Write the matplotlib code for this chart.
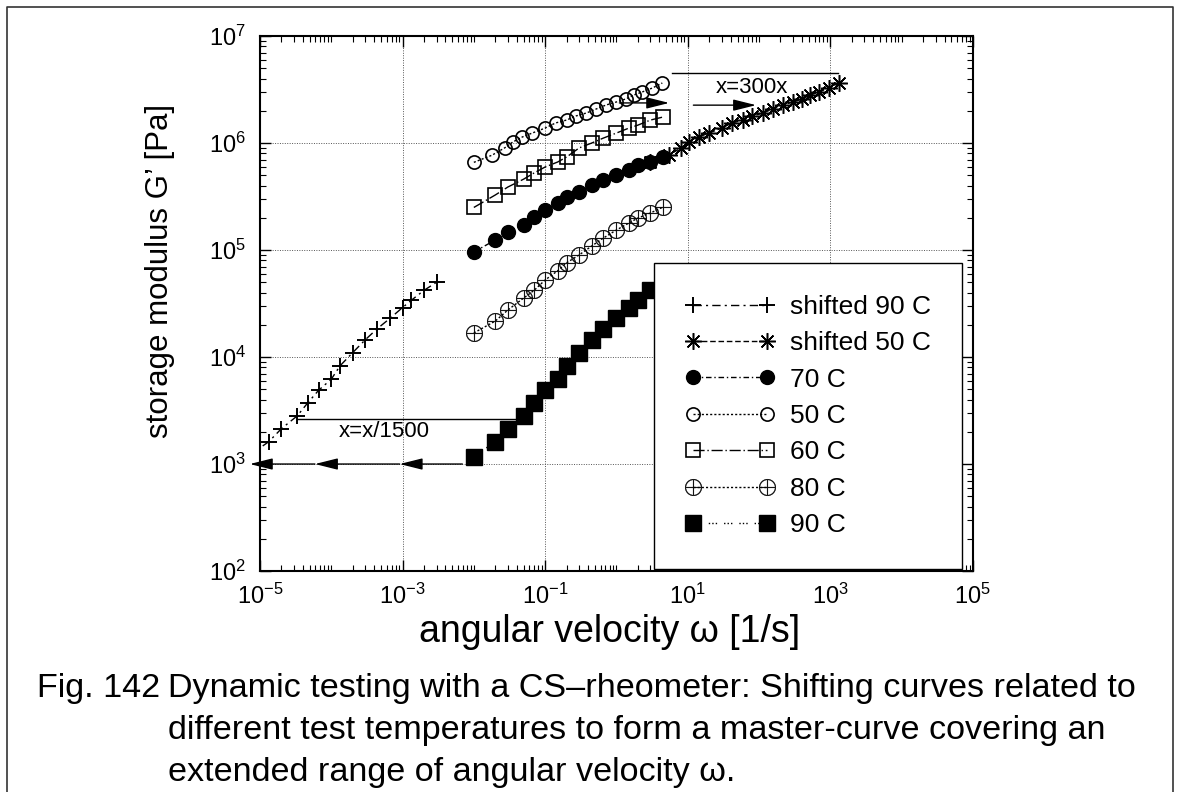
import matplotlib
matplotlib.use("Agg")
import matplotlib.pyplot as plt
from matplotlib.lines import Line2D
from matplotlib.ticker import FixedLocator, LogLocator, NullFormatter, LogFormatterSciNotation

plt.rcParams['font.family'] = ['Liberation Sans', 'DejaVu Sans']
plt.rcParams['mathtext.fontset'] = 'custom'
plt.rcParams['mathtext.rm'] = 'Liberation Sans'
plt.rcParams['mathtext.it'] = 'Liberation Sans:italic'
plt.rcParams['axes.unicode_minus'] = False

# --- data ---
# 50 C was measured on a finer frequency grid
freq_50 = [0.01, 0.018, 0.027, 0.035, 0.048, 0.066, 0.1, 0.14, 0.2, 0.27,
           0.38, 0.52, 0.72, 1.0, 1.35, 1.75, 2.3, 3.2, 4.4]
g_50 = [6.6e5, 7.7e5, 9.0e5, 1.02e6, 1.14e6, 1.24e6, 1.38e6, 1.54e6, 1.64e6, 1.79e6,
        1.91e6, 2.08e6, 2.27e6, 2.42e6, 2.58e6, 2.81e6, 3.0e6, 3.27e6, 3.64e6]

freq = [0.01, 0.02, 0.03, 0.05, 0.07, 0.1, 0.15, 0.2, 0.3, 0.45,
        0.65, 1.0, 1.5, 2.0, 3.0, 4.5]
g_60 = [2.5e5, 3.27e5, 3.88e5, 4.6e5, 5.25e5, 5.97e5, 6.65e5, 7.4e5, 9.0e5, 1.0e6,
        1.11e6, 1.24e6, 1.38e6, 1.47e6, 1.64e6, 1.75e6]
g_70 = [9.6e4, 1.24e5, 1.47e5, 1.71e5, 2.03e5, 2.36e5, 2.75e5, 3.13e5, 3.48e5, 4.05e5,
        4.5e5, 5.0e5, 5.6e5, 6.2e5, 6.6e5, 7.4e5]
g_80 = [1.68e4, 2.17e4, 2.75e4, 3.56e4, 4.2e4, 5.25e4, 6.4e4, 7.6e4, 9.0e4, 1.09e5,
        1.29e5, 1.54e5, 1.79e5, 1.99e5, 2.22e5, 2.52e5]
g_90 = [1.17e3, 1.62e3, 2.14e3, 2.82e3, 3.72e3, 4.9e3, 6.2e3, 8.3e3, 1.1e4, 1.45e4,
        1.82e4, 2.3e4, 2.9e4, 3.4e4, 4.2e4, 5.0e4]

shift_90 = 1 / 1500
shift_50 = 300

x_ticks = [1e-5, 1e-3, 1e-1, 1e1, 1e3, 1e5]
y_ticks = [1e2, 1e3, 1e4, 1e5, 1e6, 1e7]

fig = plt.figure(figsize=(11.8, 7.92), dpi=100)
ax = fig.add_axes([0.2203, 0.279, 0.6042, 0.6755])

k = 'black'
lw = 1.0
ax.plot([f * shift_90 for f in freq], g_90, color=k, lw=lw, dashes=(6, 3, 1.5, 3),
        marker='+', ms=11, mew=1.4, label='shifted 90 C')
ax.plot([f * shift_50 for f in freq_50], g_50, color=k, lw=lw, dashes=(4, 2),
        marker=(8, 2, 0), ms=12, mew=1.1, label='shifted 50 C')
ax.plot(freq, g_70, color=k, lw=lw, dashes=(4, 2, 1, 2),
        marker='o', ms=10, mfc=k, label='70 C')
ax.plot(freq_50, g_50, color=k, lw=lw, dashes=(1.5, 1.5),
        marker='o', ms=9.5, mfc='none', mew=1.2, label='50 C')
ax.plot(freq, g_60, color=k, lw=lw, dashes=(8, 2, 1, 2),
        marker='s', ms=9.5, mfc='none', mew=1.2, label='60 C')
ax.plot(freq, g_80, color=k, lw=lw, dashes=(1.5, 1.5),
        marker='$\\oplus$', ms=12, mew=0.3, label='80 C')
ax.plot(freq, g_90, color=k, lw=lw, dashes=(1, 1.5, 1, 1.5, 1, 5),
        marker='s', ms=11, mfc=k, label='90 C')

ax.set_xscale('log')
ax.set_yscale('log')
ax.set_xlim(1e-5, 1e5)
ax.set_ylim(1e2, 1e7)

ax.xaxis.set_major_locator(FixedLocator(x_ticks))
ax.yaxis.set_major_locator(FixedLocator(y_ticks))
ax.xaxis.set_major_formatter(LogFormatterSciNotation())
ax.yaxis.set_major_formatter(LogFormatterSciNotation())
ax.xaxis.set_minor_locator(LogLocator(base=10, subs=range(1, 10), numticks=30))
ax.yaxis.set_minor_locator(LogLocator(base=10, subs=range(1, 10), numticks=30))
ax.xaxis.set_minor_formatter(NullFormatter())
ax.yaxis.set_minor_formatter(NullFormatter())
ax.tick_params(which='both', direction='in', top=True, right=True, labelsize=17)
ax.tick_params(which='major', length=8, width=1)
ax.tick_params(axis='x', which='major', pad=9)
ax.tick_params(axis='y', which='major', pad=10)
ax.tick_params(which='minor', length=4, width=0.8)
ax.grid(True, which='major', linestyle=(0, (1, 1.5)), color='#555555', lw=0.7)
for sp in ax.spines.values():
    sp.set_linewidth(1.5)

ax.set_xlabel('angular velocity ω [1/s]', fontsize=27)
ax.set_ylabel('storage modulus G\u2019 [Pa]', fontsize=22.5)
ax.xaxis.set_label_coords(0.49, -0.114)
ax.xaxis.label.set_va('center')
ax.yaxis.set_label_coords(-0.14, 0.56)
ax.yaxis.label.set_va('center')

# shift annotations
arr = dict(arrowstyle='-|>,head_length=1.4,head_width=0.35', color=k, lw=1,
           shrinkA=0, shrinkB=0, mutation_scale=10)
ax.plot([6, 1300], [4.5e6, 4.5e6], color=k, lw=1)
ax.annotate('', xy=(5.5, 2.37e6), xytext=(1.1, 2.37e6), arrowprops=arr)
ax.annotate('', xy=(91, 2.26e6), xytext=(12, 2.26e6), arrowprops=arr)
ax.text(80, 3.3e6, 'x=300x', fontsize=16, ha='center', va='center')

ax.plot([3.3e-5, 0.045], [2.65e3, 2.65e3], color=k, lw=1)
ax.text(5.6e-4, 2.0e3, 'x=x/1500', fontsize=16, ha='center', va='center')
ax.annotate('', xy=(9.1e-4, 1e3), xytext=(0.0069, 1e3), arrowprops=arr)
ax.annotate('', xy=(5.9e-5, 1e3), xytext=(9.1e-4, 1e3), arrowprops=arr)
ax.annotate('', xy=(7.2e-6, 1e3), xytext=(5.9e-5, 1e3), arrowprops=arr,
            annotation_clip=False)

leg = ax.legend(loc='lower right', bbox_to_anchor=(0.985, 0.004), fontsize=19,
                frameon=True, fancybox=False, framealpha=1, edgecolor=k,
                numpoints=2, handlelength=3.4, handletextpad=0.55,
                labelspacing=0.47, borderpad=1.2, borderaxespad=0)
leg.get_frame().set_linewidth(1.0)
leg.set_zorder(5)

# caption
cap_y = [688, 731, 773]
cap_lines = ['Dynamic testing with a CS\u2013rheometer: Shifting curves related to',
             'different test temperatures to form a master-curve covering an',
             'extended range of angular velocity ω.']
fig.text(37 / 1180, 1 - cap_y[0] / 792, 'Fig. 142', fontsize=24.6, va='center')
for yy, line in zip(cap_y, cap_lines):
    fig.text(168 / 1180, 1 - yy / 792, line, fontsize=24.6, va='center')

# frame round the figure
fig.add_artist(Line2D([0.006, 0.006, 0.994, 0.994], [0, 0.991, 0.991, 0],
                      transform=fig.transFigure, color='#333333', lw=1.2))

fig.savefig('out.png', dpi=100)
